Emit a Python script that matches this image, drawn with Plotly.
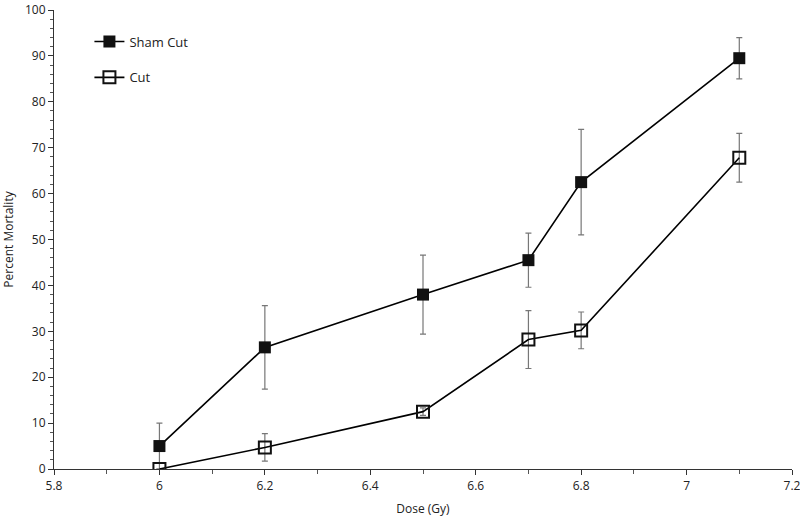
import plotly.graph_objects as go

dose = [6.0, 6.2, 6.5, 6.7, 6.8, 7.1]
sham_cut = [5.0, 26.5, 38.0, 45.5, 62.5, 89.5]
sham_cut_err = [5.0, 9.1, 8.6, 5.9, 11.5, 4.5]
cut = [0.0, 4.7, 12.5, 28.2, 30.2, 67.8]
cut_err = [0.0, 3.0, 0.8, 6.3, 4.0, 5.3]

font = "'Open Sans', Arial, sans-serif"

fig = go.Figure()
fig.add_trace(go.Scatter(
    x=dose, y=sham_cut, name="Sham Cut", mode="lines+markers",
    line=dict(color="black", width=1.6),
    marker=dict(symbol="square", size=12, color="#111111"),
    error_y=dict(type="data", array=sham_cut_err, color="#777777", thickness=1.2, width=3),
    legendgroup="a",
))
fig.add_trace(go.Scatter(
    x=dose, y=cut, name="Cut", mode="lines+markers",
    line=dict(color="black", width=1.6),
    marker=dict(symbol="square-open", size=12, color="#111111", line=dict(width=2)),
    error_y=dict(type="data", array=cut_err, color="#777777", thickness=1.2, width=3),
    legendgroup="b",
))

fig.update_layout(
    width=800, height=521,
    margin=dict(l=54, r=8, t=10, b=52, autoexpand=False),
    paper_bgcolor="white", plot_bgcolor="white",
    font=dict(family=font, size=12, color="#222222"),
    showlegend=True,
    legend=dict(x=0.048, y=0.964, xanchor="left", yanchor="top",
                bgcolor="rgba(0,0,0,0)", font=dict(size=13), itemwidth=30,
                traceorder="grouped", tracegroupgap=16),
    xaxis=dict(
        range=[5.8, 7.2], tickmode="array",
        tickvals=[5.8, 6.0, 6.2, 6.4, 6.6, 6.8, 7.0, 7.2],
        ticktext=["5.8", "6", "6.2", "6.4", "6.6", "6.8", "7", "7.2"],
        ticks="outside", ticklen=5, tickcolor="#333333",
        showline=True, linecolor="#333333", linewidth=1.2,
        showgrid=False, zeroline=False, automargin=False,
        ticklabeloverflow="allow",
        minor=dict(dtick=0.1, ticks="outside", ticklen=4, tickcolor="#555555"),
        title=dict(text="Dose (Gy)", font=dict(size=12), standoff=12),
    ),
    yaxis=dict(
        range=[0, 100], dtick=10,
        ticks="outside", ticklen=5, tickcolor="#333333",
        showline=True, linecolor="#333333", linewidth=1.2,
        showgrid=False, zeroline=False, automargin=False,
        ticklabeloverflow="allow",
        minor=dict(dtick=2, ticks="outside", ticklen=3, tickcolor="#555555"),
        title=dict(text="Percent Mortality", font=dict(size=12), standoff=14),
    ),
)

fig.write_html("out.html", config={"displayModeBar": False},
               post_script="document.body.style.margin='0px';")
